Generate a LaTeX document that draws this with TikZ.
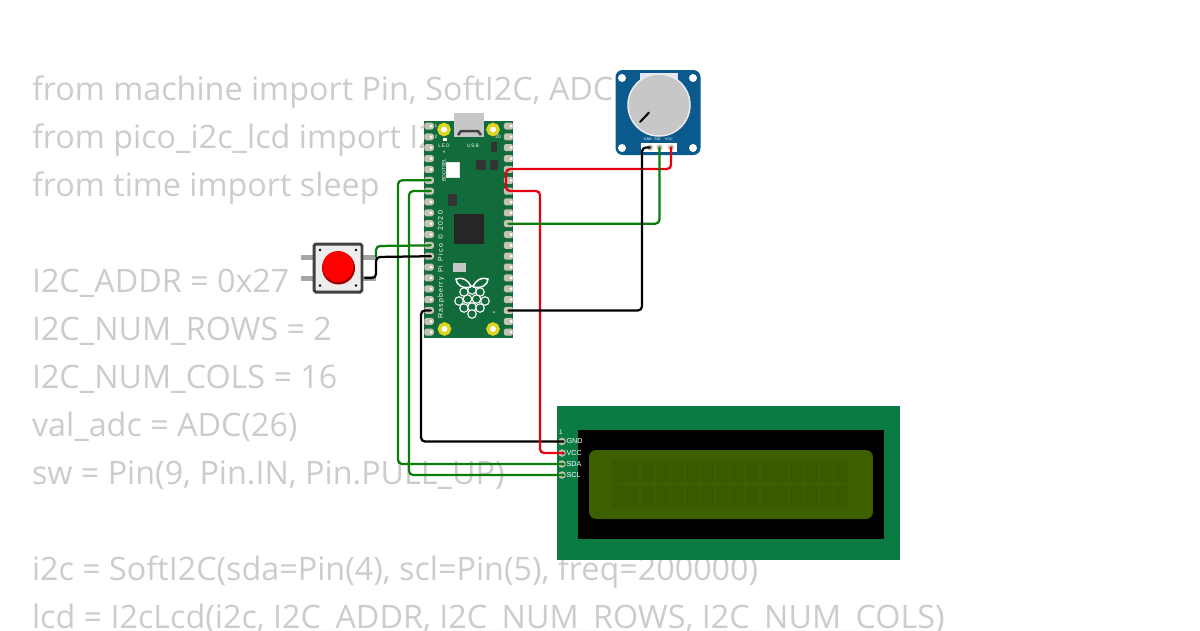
\documentclass[tikz,border=0pt]{standalone}
\usepackage{fontspec}
\setmainfont{Open Sans}
\newfontfamily\tinyfont{Liberation Sans}
\usetikzlibrary{calc,positioning}
\definecolor{codegray}{HTML}{CCCCCC}
\definecolor{picogreen}{HTML}{116B3A}
\definecolor{padtan}{HTML}{C4C2B2}
\definecolor{potblue}{HTML}{0B5A8E}
\definecolor{lcdgreen}{HTML}{0A7C42}
\definecolor{lcdolive}{HTML}{3D5F00}
\definecolor{lcdcell}{HTML}{3A5A00}
\definecolor{wiregreen}{HTML}{0A7D0A}
\definecolor{wirered}{HTML}{E60012}

\begin{document}
\begin{tikzpicture}[x=0.02cm,y=-0.02cm]
  \tikzstyle{every node}=[inner sep=0pt,outer sep=0pt]
  \tikzstyle{code}=[anchor=base west,text=codegray,font=\fontsize{18.38}{20}\selectfont]
  \tikzstyle{pad}=[fill=padtan,rounded corners=1pt,minimum width=.19cm,minimum height=.14cm]
  \tikzstyle{hole}=[circle,fill=white,minimum size=.06cm]
  \tikzstyle{chip}=[fill=black!80,minimum width=.2cm,minimum height=.2cm]
  \tikzstyle{mount}=[circle,fill=white,draw=yellow!85!black,line width=.07cm,minimum size=.2cm]
  \tikzstyle{tiny}=[text=white,font=\tinyfont\fontsize{2.8}{3}\selectfont]
  \tikzstyle{wire}=[line width=.045cm,rounded corners=2.3pt,line cap=round]
  \useasboundingbox (0,0) rectangle (1200,630);

  % code behind the parts
  \foreach \base/\line in {100/{from machine import Pin, SoftI2C, ADC},
    148/{from pico\_i2c\_lcd import I2cLcd}, 196/{from time import sleep},
    292/{I2C\_ADDR = 0x27}, 340/{I2C\_NUM\_ROWS = 2}, 388/{I2C\_NUM\_COLS = 16},
    436/{val\_adc = ADC(26)}, 484/{sw = Pin(9, Pin.IN, Pin.PULL\_UP)},
    580/{i2c = SoftI2C(sda=Pin(4), scl=Pin(5), freq=200000)},
    628/{lcd = I2cLcd(i2c, I2C\_ADDR, I2C\_NUM\_ROWS, I2C\_NUM\_COLS)}} {
    \node[code] (line\base) at (32,\base) {\line};
  }

  % pico
  \node[fill=picogreen,minimum width=1.79cm,minimum height=4.34cm] (pico) at (468.5,229.5) {};
  \node[fill=black!22,minimum width=.6cm,minimum height=.48cm] (usb) at (469,125) {};
  \draw[black!75,line width=.05cm] (458,135) -- (461,131) -- (478,131) -- (481,135);
  \foreach \i in {1,...,20} {
    \pgfmathsetmacro\py{126+10.85*(\i-1)}
    \node[pad] (L\i) at (429,\py) {};
    \node[hole] (H\i) at (431,\py) {};
    \node[pad] (R\i) at (508.5,\py) {};
    \node[hole] (S\i) at (511,\py) {};
  }
  \foreach \name/\cx/\cy in {m1/444/129.5, m2/493/129.5, m3/444.5/329, m4/493/329} {
    \node[mount] (\name) at (\cx,\cy) {};
  }
  \node[fill=white,draw=black!12,minimum width=.26cm,minimum height=.3cm] (boot) at (453,170) {};
  \node[fill=white,minimum width=.08cm,minimum height=.06cm] (led) at (445,139.5) {};
  \node[circle,fill=black!35,minimum size=.05cm] (dot1) at (444,151.5) {};
  \node[circle,fill=black!35,minimum size=.05cm] (dot2) at (494,312) {};
  \node[chip] (c1) at (481,165) {};
  \node[chip,minimum width=.17cm] (c2) at (494,165) {};
  \node[chip,minimum width=.12cm] (c3) at (494,147) {};
  \node[chip,minimum width=.17cm,minimum height=.24cm] (c4) at (452.5,200) {};
  \node[chip,minimum width=.6cm,minimum height=.6cm,fill=black!85] (rp) at (469,229) {};
  \node[fill=black!22,minimum width=.26cm,minimum height=.18cm] (flash) at (459,267.5) {};
  \node[tiny] (t1) at (436,126) {1};
  \node[tiny] (t2) at (436,137) {2};
  \node[tiny] (t20) at (498,137) {20};
  \node[tiny] (tled) at (444,146) {L\,E\,D};
  \node[tiny] (tusb) at (473,145.5) {U\,S\,B};
  \node[tiny,rotate=90] (tboot) at (444,170) {BOOTSEL};
  \node[tiny,rotate=90,font=\tinyfont\fontsize{4}{5}\selectfont] (tpico) at (441,265) {R\,a\,s\,p\,b\,e\,r\,r\,y\,\, P\,i\,\, P\,i\,c\,o\,\, \textcopyright\,\, 2\,0\,2\,0};

  % raspberry
  \tikzstyle{berry}=[circle,draw=white,fill=picogreen,line width=.022cm,minimum size=.17cm]
  \foreach \bx/\by in {464/292, 472/290, 480/292, 459/301, 467.5/299, 476.5/299, 485/301, 464/308, 472/307, 480/308, 472/314} {
    \node[berry] at (\bx,\by) {};
  }
  \draw[white,line width=.03cm,fill=picogreen] (471,287) .. controls (468,279) and (462,277) .. (456,279) .. controls (456,285) and (463,289) .. (471,287);
  \draw[white,line width=.03cm,fill=picogreen] (473,287) .. controls (476,279) and (482,277) .. (488,279) .. controls (488,285) and (481,289) .. (473,287);

  % pot
  \node[fill=potblue,rounded corners=4pt,minimum width=1.7cm,minimum height=1.7cm] (pot) at (658,112.5) {};
  \node[fill=black!12!blue!10,minimum width=.76cm,minimum height=.2cm] (tab) at (659,78) {};
  \node[circle,fill=black!22,draw=black!8,line width=.03cm,minimum size=1.24cm] (knob) at (659,105) {};
  \draw[black,line width=.04cm,line cap=round] (640,122) -- (649,112.5);
  \foreach \name/\cx/\cy in {a1/622/78, a2/693/78, a3/622/148, a4/693/148} {
    \node[circle,fill=white,minimum size=.16cm] (\name) at (\cx,\cy) {};
  }
  \node[fill=white,minimum width=.72cm,minimum height=.18cm] (socket) at (659,147.5) {};
  \foreach \name/\lab/\cx in {potg/GND/650, pots/SIG/659.5, potv/VCC/671} {
    \node[circle,fill=padtan,minimum size=.12cm] (\name) at (\cx,147.5) {};
    \node[tiny,font=\tinyfont\fontsize{2.1}{3}\selectfont] (t\name) at (\cx-2,139.5) {\lab};
  }

  % button
  \foreach \cy in {257,278} {
    \draw[black!35,line width=.1cm] (301,\cy) -- (376,\cy);
  }
  \node[fill=black!7,draw=black!75,line width=.06cm,rounded corners=1pt,minimum width=.96cm,minimum height=.96cm] (btn) at (338,268) {};
  \foreach \cx/\cy in {320/250, 356/250, 320/285.5, 356/285.5} {
    \node[circle,fill=black,minimum size=.055cm] at (\cx,\cy) {};
  }
  \node[circle,fill=red!60!black,minimum size=.66cm] (cap0) at (338.5,268) {};
  \node[circle,fill=red,minimum size=.62cm] (cap) at (338,266.5) {};
  \coordinate (b1) at (376,257);
  \coordinate (b2) at (365,278);

  % lcd
  \node[fill=lcdgreen,minimum width=6.86cm,minimum height=3.08cm] (lcd) at (728.5,483) {};
  \node[fill=black,minimum width=6.12cm,minimum height=2.18cm] (bezel) at (731,484.5) {};
  \node[fill=lcdolive,rounded corners=4pt,minimum width=5.68cm,minimum height=1.38cm] (screen) at (731,484.5) {};
  \foreach \c in {0,...,15} {
    \node[fill=lcdcell,minimum width=.26cm,minimum height=.42cm] at (618+14.9*\c,471.5) {};
    \node[fill=lcdcell,minimum width=.26cm,minimum height=.44cm] at (618+14.9*\c,496) {};
  }
  \node[tiny,font=\tinyfont\fontsize{3.6}{4}\selectfont] (t1b) at (561,432) {1};
  \foreach \name/\lab/\cy in {gnd/GND/441.5, vcc/VCC/453, sda/SDA/464, scl/SCL/475} {
    \node[circle,fill=padtan,minimum size=.15cm] (\name pad) at (562,\cy) {};
    \node[circle,fill=black!80,minimum size=.07cm] (\name) at (563,\cy) {};
    \node[tiny,anchor=west,font=\tinyfont\fontsize{4.1}{5}\selectfont] (t\name) at (566.5,\cy) {\lab};
  }

  % wires
  \coordinate (R6a) at (506,180.2);
  \coordinate (w1) at (398,300);
  \coordinate (w2) at (409,300);
  \coordinate (w3) at (421,380);
  \coordinate (w4) at (540,300);
  \coordinate (w5) at (642,230);
  \coordinate (w6) at (506,169);
  \coordinate (w7) at (506,191);
  \coordinate (w8) at (376,246);
  \draw[wire,wiregreen] (H6.center) -| (w1) |- (sda.center);
  \draw[wire,wiregreen] (H7.center) -| (w2) |- (scl.center);
  \draw[wire,black] (H18.center) -| (w3) |- (gnd.center);
  \draw[wire,wirered] (R6a) -- (w7) -| (w4) |- (vcc.center);
  \draw[wire,wirered] (R6a) -- (w6) -| (potv.center);
  \draw[wire,wiregreen] (R10.center) -| (pots.center);
  \draw[wire,black] (R18.center) -| (w5) |- (potg.center);
  \draw[wire,wiregreen] (b1) -- (w8) -- (H12.center);
  \draw[wire,black] (b2) -| (b1) -- (H13.center);
\end{tikzpicture}
\end{document}
